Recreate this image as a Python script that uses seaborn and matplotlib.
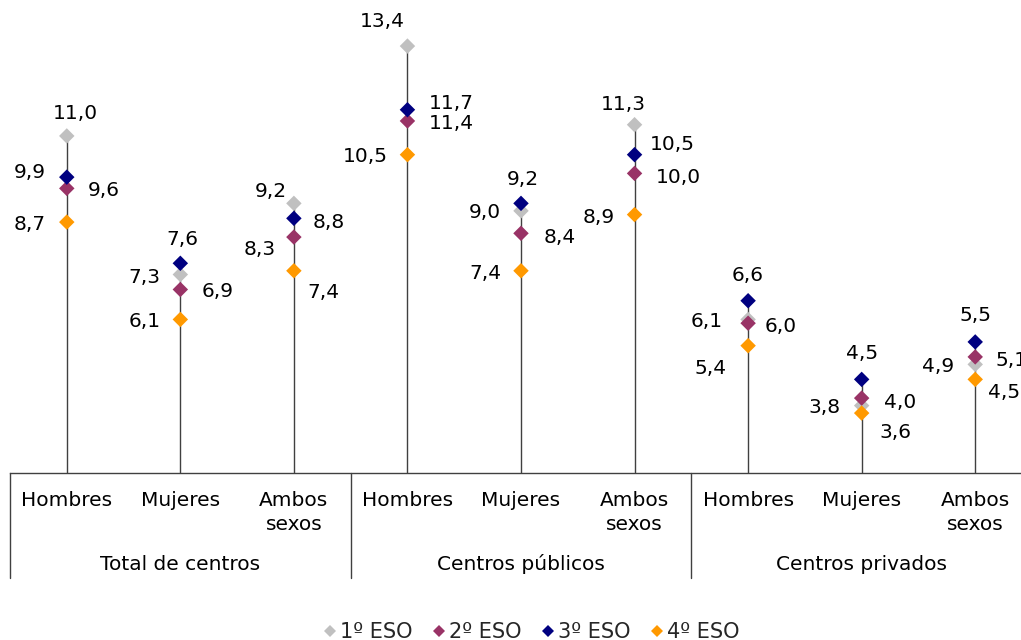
"""
Alumnado de ESO por curso, sexo y titularidad del centro (gráfico de piruletas).
"""
import numpy as np
import pandas as pd
import matplotlib
matplotlib.use("Agg")
import matplotlib.pyplot as plt
import matplotlib.transforms as mtransforms
from matplotlib.lines import Line2D
import seaborn as sns

# ─────────────────────────────────────────────────────────
# Datos
# ─────────────────────────────────────────────────────────
grupos = ["Total de centros", "Centros públicos", "Centros privados"]
sexos = ["Hombres", "Mujeres", "Ambos\nsexos"]
cursos = ["1º ESO", "2º ESO", "3º ESO", "4º ESO"]

eso1 = [11.0, 7.3, 9.2, 13.4, 9.0, 11.3, 6.1, 3.8, 4.9]
eso2 = [9.6, 6.9, 8.3, 11.4, 8.4, 10.0, 6.0, 4.0, 5.1]
eso3 = [9.9, 7.6, 8.8, 11.7, 9.2, 10.5, 6.6, 4.5, 5.5]
eso4 = [8.7, 6.1, 7.4, 10.5, 7.4, 8.9, 5.4, 3.6, 4.5]

colores = ["#C0C0C0", "#993366", "#000080", "#FF9900"]

# desplazamiento de cada etiqueta respecto a su punto (píxeles, y hacia arriba)
desp = {
    "1º ESO": [(9, 24), (-36, -1), (-23, 14), (-25, 27), (-36, 0), (-11, 22), (-41, 0), (-37, 0), (-37, 0)],
    "2º ESO": [(37, 0), (37, 0), (-34, -10), (44, -1), (39, -2), (44, -2), (33, -1), (38, -2), (36, -2)],
    "3º ESO": [(-37, 7), (2, 26), (35, -2), (44, 8), (2, 26), (38, 12), (0, 27), (0, 28), (0, 28)],
    "4º ESO": [(-37, 0), (-36, 0), (30, -20), (-42, 0), (-36, -1), (-36, -1), (-38, -21), (34, -17), (29, -11)],
}

pos = np.arange(len(eso1))
df = pd.DataFrame({
    "pos": np.tile(pos, 4),
    "valor": np.concatenate([eso1, eso2, eso3, eso4]),
    "curso": np.repeat(cursos, len(pos)),
})

# ─────────────────────────────────────────────────────────
# Figura
# ─────────────────────────────────────────────────────────
sns.set_theme(style="white")
plt.rcParams["font.family"] = ["DejaVu Sans"]

W, H = 1021, 640
fig = plt.figure(figsize=(W / 100, H / 100), dpi=100)
ax = fig.add_axes([10 / W, 167 / H, 1022 / W, 472 / H])

ymin = 2
ax.set_xlim(-0.5, 8.5)
ax.set_ylim(ymin, ymin + 472 / 37.45)

# tallos
maximos = df.groupby("pos")["valor"].max()
ax.vlines(maximos.index, ymin, maximos.values, color="#404040", lw=1, zorder=1)

sns.scatterplot(data=df, x="pos", y="valor", hue="curso", hue_order=cursos,
                palette=colores, marker="D", s=62, edgecolor="none",
                legend=False, ax=ax, zorder=3)

for curso, vals in zip(cursos, [eso1, eso2, eso3, eso4]):
    for j, v in enumerate(vals):
        dx, dy = desp[curso][j]
        ax.annotate(f"{v:.1f}".replace(".", ","), (j, v), xytext=(dx, dy),
                    textcoords="offset pixels", ha="center", va="center_baseline",
                    fontsize=14.5, color="black")

# ejes
for s in ["left", "top", "right"]:
    ax.spines[s].set_visible(False)
ax.spines["bottom"].set_color("#404040")
ax.spines["bottom"].set_linewidth(1)
ax.set_yticks([])
ax.set_xticks(pos, labels=sexos * 3)
ax.tick_params(axis="x", length=0, pad=13, labelsize=14.5, labelcolor="black")
for lab in ax.get_xticklabels():
    lab.set_linespacing(1.3)
ax.set_xlabel("")
ax.set_ylabel("")

trans = mtransforms.blended_transform_factory(ax.transData, ax.transAxes)
for xb in [-0.5, 2.5, 5.5, 8.5]:
    ax.plot([xb, xb], [0, -105 / 472], transform=trans, color="#404040",
            lw=1, clip_on=False)
for k, g in enumerate(grupos):
    ax.text(1 + 3 * k, -91 / 472, g, transform=trans, ha="center",
            va="center", fontsize=14.5, color="black")

# leyenda
handles = [Line2D([], [], marker="D", ls="none", color=c, markersize=6,
                  markeredgewidth=0) for c in colores]
fig.legend(handles, cursos, loc="center", bbox_to_anchor=(532 / W, 1 - 632 / H),
           ncol=4, frameon=False, fontsize=15, handlelength=0.5,
           handletextpad=0.25, columnspacing=1.0, borderpad=0)

fig.savefig("out.png", dpi=100)
plt.close(fig)
